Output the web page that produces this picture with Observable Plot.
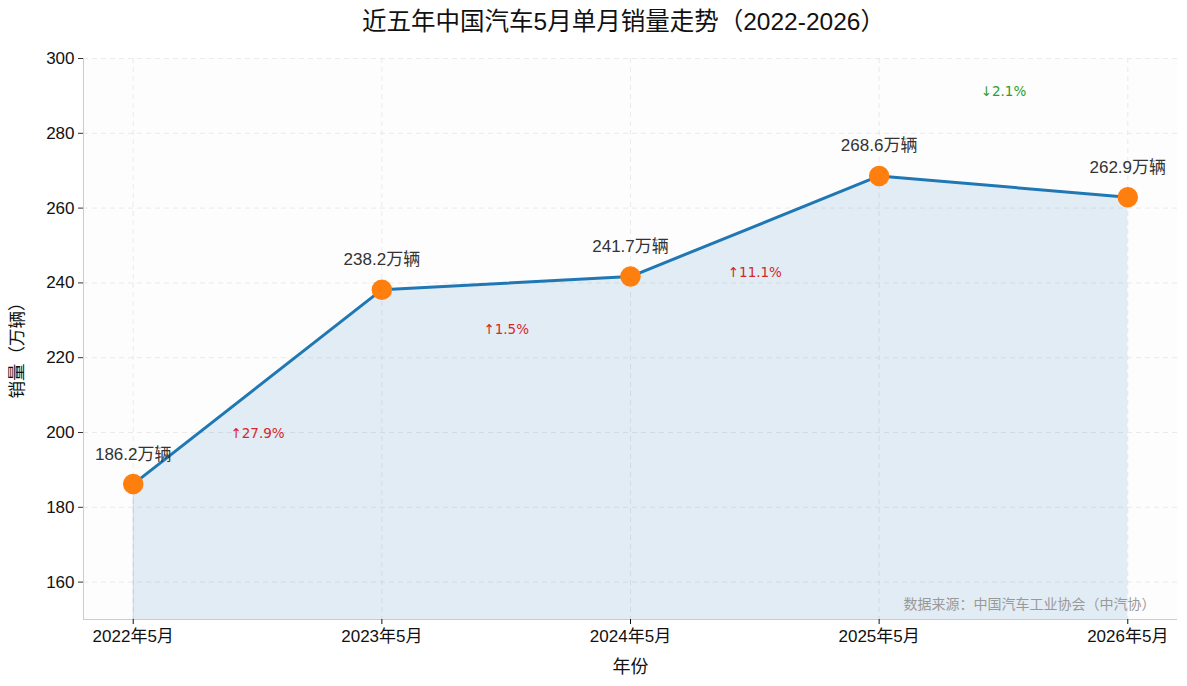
<!DOCTYPE html>
<html><head><meta charset="utf-8">
<script src="https://cdn.jsdelivr.net/npm/d3@7"></script>
<script src="https://cdn.jsdelivr.net/npm/@observablehq/plot@0.6"></script>
<style>
body{margin:0;background:#fff;font-family:"Liberation Sans","Noto Sans CJK SC",sans-serif;}
#title{height:44px;line-height:44px;font-size:24.5px;color:#111;text-align:center;padding-left:60px;width:1127px;}
#chart svg{display:block;}
</style></head><body>
<div id="title">近五年中国汽车5月单月销量走势（2022-2026）</div>
<div id="chart"></div>
<script>
const categories = ["2022年5月","2023年5月","2024年5月","2025年5月","2026年5月"];
const sales = [186.2, 238.2, 241.7, 268.6, 262.9];
const yTicks = [160, 180, 200, 220, 240, 260, 280, 300];
const source = "数据来源：中国汽车工业协会（中汽协）";

const data = categories.map((c, i) => ({i, c, v: sales[i]}));
const changes = [];
for (let i = 1; i < sales.length; i++) {
  const pct = (sales[i] - sales[i-1]) / sales[i-1] * 100;
  const mid = (sales[i] + sales[i-1]) / 2;
  changes.push({x: i - 0.5, y: pct >= 0 ? mid - 12.5 : mid + 25.5, up: pct >= 0,
    label: (pct >= 0 ? "↑" : "↓") + Math.abs(pct).toFixed(1) + "%"});
}

const plot = Plot.plot({
  width: 1187, height: 642,
  marginTop: 14, marginBottom: 67, marginLeft: 83, marginRight: 10,
  style: {fontFamily: '"Liberation Sans","Noto Sans CJK SC",sans-serif', fontSize: "17px", color: "#111", background: "#fff"},
  x: {type: "linear", domain: [-0.2, 4.2]},
  y: {domain: [150, 300]},
  marks: [
    Plot.frame({fill: "#fdfdfd", stroke: null}),
    Plot.gridY(yTicks, {stroke: "#ddd", strokeOpacity: 0.6, strokeDasharray: "5,4"}),
    Plot.gridX(d3.range(categories.length), {stroke: "#ddd", strokeOpacity: 0.6, strokeDasharray: "5,4"}),
    Plot.areaY(data, {x: "i", y1: 150, y2: "v", fill: "#1f77b4", fillOpacity: 0.12}),
    Plot.ruleX([0], {y1: 150, y2: sales[0], stroke: "#1f77b4", strokeOpacity: 0.12}),
    Plot.ruleX([-0.2], {stroke: "#ccc"}),
    Plot.ruleY([150], {stroke: "#ccc"}),
    Plot.axisY({ticks: yTicks, tickSize: 5, tickPadding: 4, stroke: "#333", label: null, fontSize: 17}),
    Plot.axisX({ticks: d3.range(categories.length), tickFormat: i => categories[i], tickSize: 5, tickPadding: 5, label: null, fontSize: 17}),
    Plot.lineY(data, {x: "i", y: "v", stroke: "#1f77b4", strokeWidth: 3}),
    Plot.dot(data, {x: "i", y: "v", r: 9.5, fill: "#ff7f0e", stroke: "#ff7f0e"}),
    Plot.text(data, {x: "i", y: "v", text: d => d.v.toFixed(1) + "万辆", dy: -30, fontSize: 17, fill: "#333"}),
    Plot.text(changes, {x: "x", y: "y", text: "label", fill: d => d.up ? "#d62728" : "#2ca02c", fontSize: 13.5, fontFamily: '"DejaVu Sans",sans-serif'}),
    Plot.text([source], {frameAnchor: "bottom-right", text: d => d, dx: -22, dy: -11, fill: "#999", fontSize: 14}),
    Plot.text(["年份"], {frameAnchor: "bottom", text: d => d, dy: 53, fontSize: 18, fill: "#111"}),
    Plot.text(["销量（万辆）"], {frameAnchor: "left", textAnchor: "middle", text: d => d, dx: -66, dy: 7, rotate: -90, fontSize: 17.5, fill: "#111"})
  ]
});
document.getElementById("chart").appendChild(plot);
</script>
</body></html>
